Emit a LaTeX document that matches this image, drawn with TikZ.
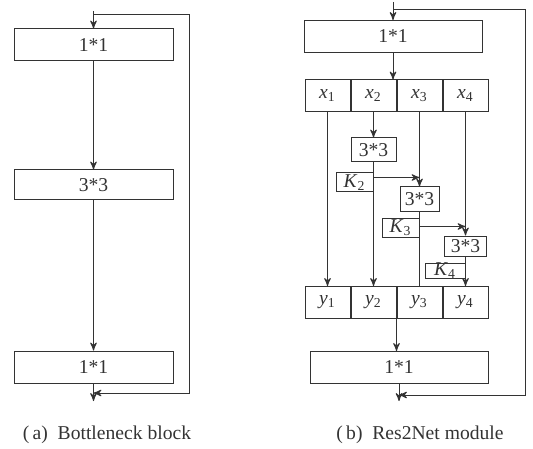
\documentclass[tikz,border=0pt]{standalone}
\usepackage{fontspec}
\setmainfont{Liberation Serif}
\usetikzlibrary{arrows,positioning}
\newcommand{\sub}[2]{\textit{#1}\textsubscript{#2}}

\begin{document}
\begin{tikzpicture}[x=0.5pt, y=-0.5pt, >=stealth', line width=0.5pt, color=black!80,
    font=\fontsize{9.8}{11}\selectfont,
    block/.style={draw, rectangle, minimum width=79.5pt, minimum height=16pt, inner sep=0pt},
    cell/.style={draw, rectangle, minimum width=22.5pt, minimum height=16pt, inner sep=0pt},
    conv/.style={draw, rectangle, minimum width=21pt, minimum height=12pt, inner sep=0pt},
    kbox/.style={draw, rectangle, minimum width=18.5pt, minimum height=9.5pt, inner sep=0pt}]
    \useasboundingbox (0,0) rectangle (533,448);

    % Nodes (a) {a1, a2, a3}
    \node [block]                   (a1)  at (93.5,45)   {1*1};
    \node [block, minimum height=15pt] (a2) at (93.5,185) {3*3};
    \node [block]                   (a3)  at (93.5,367)  {1*1};
    \coordinate (ain)  at (93.5,11);
    \coordinate (aout) at (93.5,401);
    \coordinate (afb)  at (93.5,15);
    \coordinate (aend) at (93.5,393);

    % Paths (a)
    \path [->]  (ain) edge (a1);
    \path [->]  (a1)  edge (a2);
    \path [->]  (a2)  edge (a3);
    \path [->]  (a3)  edge (aout);
    \draw [->]  (afb) -- ++(96,0) |- (aend);

    % Nodes (b) {b1, x1..x4, c2..c4, k2..k4, y1..y4, b5}
    \node [block, minimum width=89pt] (b1) at (393,36.5) {1*1};
    \node [cell]                    (x1)  at (327.5,96)  {\sub{x}{1}};
    \node [cell]                    (x2)  [right=0pt of x1] {\sub{x}{2}};
    \node [cell]                    (x3)  [right=0pt of x2] {\sub{x}{3}};
    \node [cell]                    (x4)  [right=0pt of x3] {\sub{x}{4}};
    \node [conv, minimum width=22.5pt] (c2) [below=12.5pt of x2] {3*3};
    \node [kbox]                    (k2)  [below left=5pt and 0pt of c2.south] {\sub{K}{2}};
    \node [conv, minimum width=19.5pt] (c3) [below=37pt of x3] {3*3};
    \node [kbox]                    (k3)  [below left=3pt and 0pt of c3.south] {\sub{K}{3}};
    \node [conv, minimum height=10pt] (c4) [below=61.5pt of x4] {3*3};
    \node [kbox, minimum width=20pt, minimum height=7pt] (k4) [below left=3pt and 0pt of c4.south] {\sub{K}{4}};
    \node [cell]                    (y1)  at (327.5,302.5) {\sub{y}{1}};
    \node [cell]                    (y2)  [right=0pt of y1] {\sub{y}{2}};
    \node [cell]                    (y3)  [right=0pt of y2] {\sub{y}{3}};
    \node [cell]                    (y4)  [right=0pt of y3] {\sub{y}{4}};
    \node [block, minimum width=89pt] (b5) at (399,367.5) {1*1};
    \coordinate (bin)  at (393,2);
    \coordinate (bout) at (399,401);
    \coordinate (bfb)  at (393,10);
    \coordinate (bend) at (399,395);
    \coordinate (br2)  at ([yshift=-2.5pt]k2.north east);
    \coordinate (br3)  at ([yshift=-4.5pt]k3.north east);

    % Paths (b)
    \path [->]  (bin)       edge (b1);
    \draw [->]  (b1.south)  -- (b1.south |- x2.north);
    \draw [->]  (x1.south)  -- (y1.north);
    \draw [->]  (x2.south)  -- (c2.north);
    \draw [->]  (c2.south)  -- (c2.south |- y2.north);
    \draw [->]  (br2)       -- (br2 -| x3.south);
    \draw [->]  (x3.south)  -- (c3.north);
    \draw       (c3.south)  -- (c3.south |- y3.north);
    \draw [->]  (br3)       -- (br3 -| x4.south);
    \draw [->]  (x4.south)  -- (c4.north);
    \draw [->]  (c4.south)  -- (c4.south |- y4.north);
    \draw [->]  (y2.south east) -- (y2.south east |- b5.north);
    \path [->]  (b5)        edge (bout);
    \draw [->]  (bfb) -- ++(132,0) |- (bend);

    % Captions
    \node (capa) at (107,435) {(\,a)\enspace Bottleneck block};
    \node (capb) at (420,435) {(\,b)\enspace Res2Net module};
\end{tikzpicture}
\end{document}
